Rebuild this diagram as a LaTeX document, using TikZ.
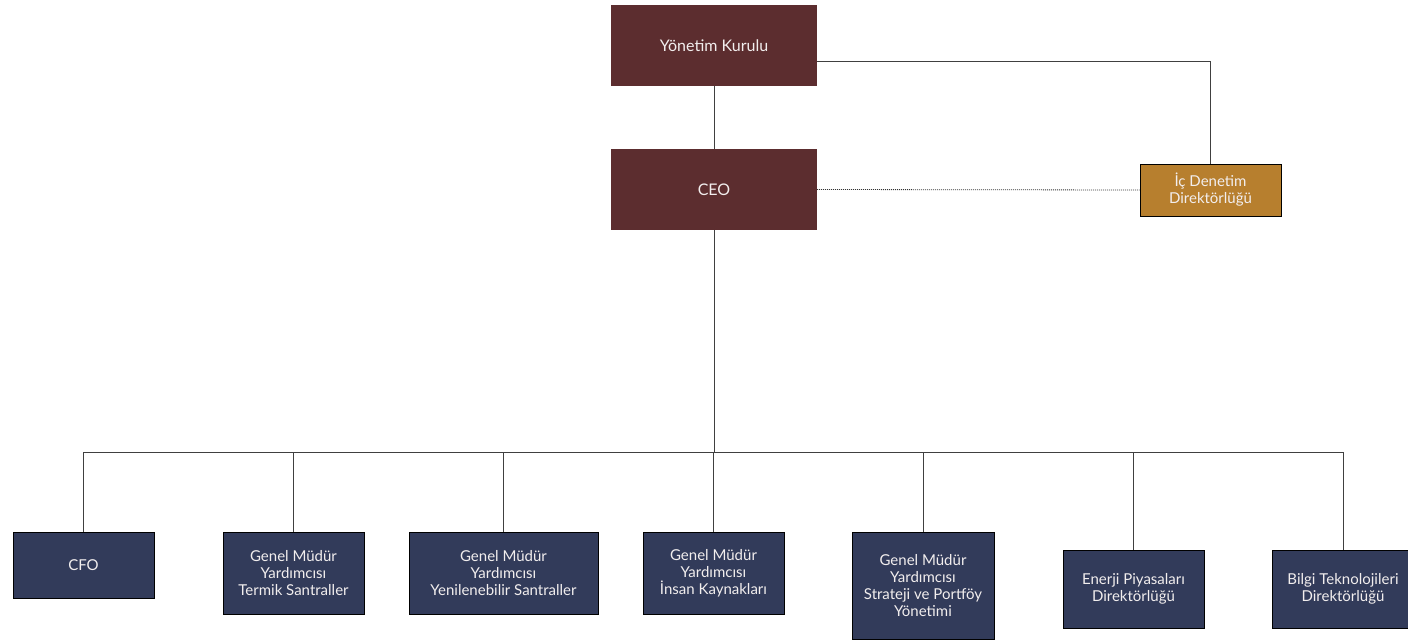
\documentclass[tikz,border=0pt]{standalone}
\usepackage{fontspec}
\setmainfont{Lato}
\definecolor{maroon}{HTML}{5C2D2F}
\definecolor{gold}{HTML}{B77F2E}
\definecolor{navy}{HTML}{323B5A}
\definecolor{txt}{HTML}{F2EEEE}
\begin{document}
\begin{tikzpicture}[x=1pt,y=-1pt,
  topbox/.style={fill=maroon, draw=none, text=txt, minimum width=206pt, minimum height=81pt, inner sep=0pt, font=\fontsize{16}{19}\selectfont},
  auditbox/.style={fill=gold, draw=black, line width=0.8pt, text=txt, minimum width=141pt, minimum height=52pt, inner sep=0pt, align=center, font=\fontsize{15}{17}\selectfont},
  unitbox/.style={fill=navy, draw=black, line width=0.8pt, text=txt, minimum height=82pt, inner sep=0pt, align=center, font=\fontsize{15}{16.8}\selectfont},
  conn/.style={draw=black!75, line width=0.9pt},
  dotconn/.style={draw=black!80, line width=0.8pt, dash pattern=on 1pt off 1pt}]
\useasboundingbox (0,0) rectangle (1408,642);
\node[topbox] (yk) at (714,45.5) {Yönetim Kurulu};
\node[topbox] (ceo) at (714,189.5) {CEO};
\node[auditbox] (ic) at (1210.5,190) {İç Denetim\\Direktörlüğü};
\node[unitbox, minimum width=141pt, minimum height=66pt] (cfo) at (83.5,565) {CFO};
\node[unitbox, minimum width=141pt] (termik) at (293.5,573) {Genel Müdür\\Yardımcısı\\Termik Santraller};
\node[unitbox, minimum width=189pt] (yenil) at (503.5,573) {Genel Müdür\\Yardımcısı\\Yenilenebilir Santraller};
\node[unitbox, minimum width=141pt] (insan) at (713.5,573) {Genel Müdür\\Yardımcısı\\İnsan Kaynakları};
\node[unitbox, minimum width=142pt, minimum height=107pt] (strat) at (923,585.5) {Genel Müdür\\Yardımcısı\\Strateji ve Portföy\\Yönetimi};
\node[unitbox, minimum width=141pt, minimum height=78pt] (enerji) at (1133.5,589) {Enerji Piyasaları\\Direktörlüğü};
\node[unitbox, minimum width=141pt, minimum height=78pt] (bilgi) at (1343,589) {Bilgi Teknolojileri\\Direktörlüğü};
\coordinate (bus) at (714,452);
\draw[conn] (yk.south) -- (ceo.north);
\draw[conn] ([yshift=-15.5pt]yk.east) -| (ic.north);
\draw[dotconn] (ceo.east) -- (ic.west);
\draw[conn] (ceo.south) -- (bus);
\foreach \n in {cfo,termik,yenil,insan,strat,enerji,bilgi}{
  \draw[conn] (bus) -| (\n.north);
}
\end{tikzpicture}
\end{document}
